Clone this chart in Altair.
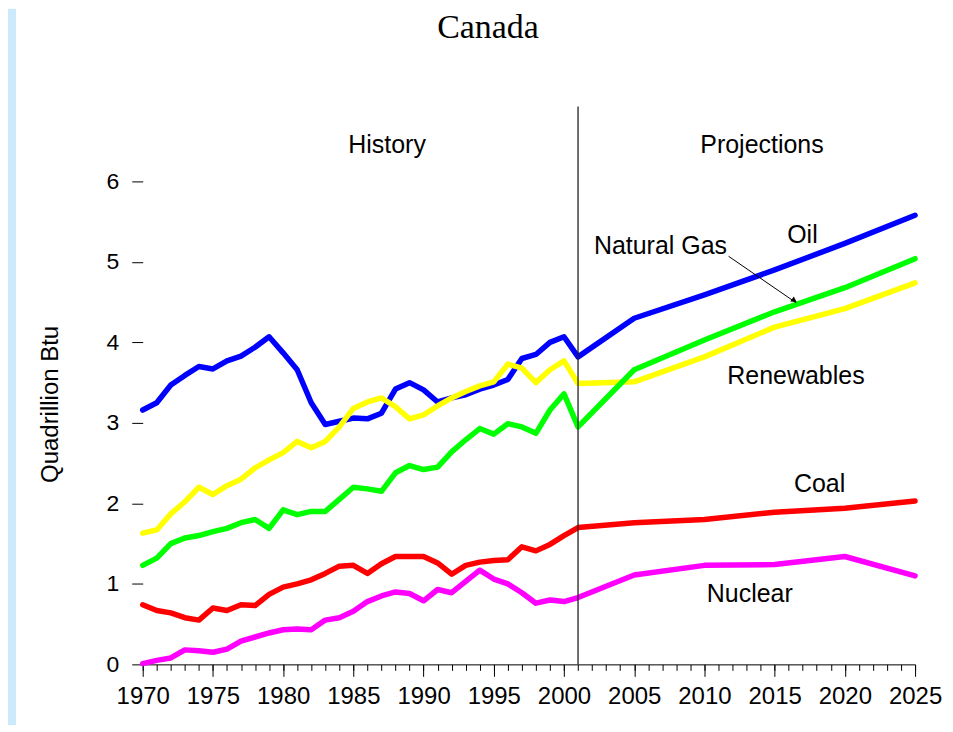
import altair as alt
import pandas as pd

years = list(range(1970, 2002)) + [2005, 2010, 2015, 2020, 2025]

oil = [3.16, 3.25, 3.47, 3.59, 3.70, 3.67, 3.77, 3.83, 3.94, 4.07, 3.87, 3.66, 3.25, 2.98, 3.02,
       3.06, 3.05, 3.12, 3.42, 3.50, 3.41, 3.26, 3.31, 3.35, 3.42, 3.47, 3.54, 3.80, 3.85, 4.00,
       4.07, 3.82, 4.30, 4.59, 4.90, 5.23, 5.58]
renewables = [1.63, 1.67, 1.87, 2.02, 2.20, 2.11, 2.22, 2.30, 2.44, 2.54, 2.63, 2.77, 2.69, 2.77, 2.95,
              3.18, 3.26, 3.31, 3.20, 3.05, 3.10, 3.21, 3.31, 3.39, 3.46, 3.51, 3.73, 3.68, 3.50, 3.66,
              3.77, 3.49, 3.51, 3.82, 4.19, 4.42, 4.74]
gas = [1.23, 1.32, 1.50, 1.57, 1.60, 1.65, 1.69, 1.76, 1.80, 1.69, 1.92, 1.86, 1.90, 1.90, 2.05,
       2.20, 2.18, 2.15, 2.38, 2.47, 2.42, 2.45, 2.64, 2.79, 2.93, 2.86, 2.99, 2.95, 2.87, 3.16,
       3.36, 2.95, 3.66, 4.03, 4.38, 4.68, 5.04]
coal = [0.74, 0.67, 0.64, 0.58, 0.55, 0.70, 0.67, 0.74, 0.73, 0.87, 0.96, 1.00, 1.05, 1.13, 1.22,
        1.23, 1.13, 1.25, 1.34, 1.34, 1.34, 1.26, 1.12, 1.23, 1.27, 1.29, 1.30, 1.46, 1.41, 1.49,
        1.60, 1.70, 1.76, 1.80, 1.89, 1.94, 2.03]
nuclear = [0.01, 0.05, 0.08, 0.18, 0.17, 0.15, 0.19, 0.29, 0.34, 0.39, 0.43, 0.44, 0.43, 0.55, 0.58,
           0.66, 0.78, 0.85, 0.90, 0.88, 0.79, 0.93, 0.89, 1.03, 1.17, 1.06, 1.00, 0.89, 0.76, 0.80,
           0.78, 0.83, 1.11, 1.23, 1.24, 1.34, 1.10]

series = [("Oil", oil, "#0000FF"), ("Renewables", renewables, "#FFFF00"),
          ("Natural Gas", gas, "#00FF00"), ("Coal", coal, "#FF0000"),
          ("Nuclear", nuclear, "#FF00FF")]

title_text = ["Canada"]
label_text = ["History", "Projections", "Oil", "Natural Gas", "Renewables", "Coal", "Nuclear"]
label_x = [1987.4, 2014.1, 2016.98, 2006.87, 2016.52, 2018.2, 2013.23]
label_y = [6.356, 6.356, 5.24, 5.095, 3.483, 2.136, 0.772]

arrow_x = [2011.72, 2016.55]
arrow_y = [5.07, 4.49]
divider_year = [2001]

FONT = "Liberation Sans"
W, H = 774, 559
xscale = alt.Scale(domain=[1970, 2025], nice=False, zero=False)
yscale = alt.Scale(domain=[0, 6.93], nice=False, zero=True)

y_axis = alt.Axis(values=[0, 1, 2, 3, 4, 5, 6], tickSize=11, domain=False, grid=False,
                  labelPadding=13, labelFont=FONT, labelFontSize=23, labelColor="black",
                  tickColor="black", title="Quadrillion Btu", titleFont=FONT, titleFontSize=24,
                  titleFontWeight="normal", titleColor="black", titleAngle=270,
                  titleX=-85.7, titleY=298, titleAlign="center", titleBaseline="alphabetic")
x_axis = alt.Axis(values=list(range(1970, 2026, 5)), format="d", title=None, tickSize=12,
                  domainColor="black", tickColor="black", labelFont=FONT, labelFontSize=24,
                  labelColor="black", grid=False, labelBaseline="alphabetic", labelPadding=27,
                  orient="bottom", labelFlush=False)
minor_axis = alt.Axis(values=list(range(1970, 2026)), labels=False, tickSize=6, domain=False,
                      tickColor="black", grid=False, title=None, orient="bottom")


def Y(field):
    return alt.Y(field, scale=yscale, axis=y_axis)


strip = alt.Chart(pd.DataFrame({"a": [0]})).mark_rect(color="#CDE9FC").encode(
    x=alt.value(-135), x2=alt.value(-127), y=alt.value(-98), y2=alt.value(H + 70))

title = alt.Chart(pd.DataFrame({"t": title_text})).mark_text(
    font="Liberation Serif", fontSize=34, align="center", baseline="alphabetic",
    color="black").encode(x=alt.value(346), y=alt.value(-69), text="t:N")

layers = [strip, title]
for i, (name, vals, col) in enumerate(series):
    df = pd.DataFrame({"year": years, "value": vals})
    lyr = alt.Chart(df).mark_line(color=col, strokeWidth=5.5, strokeCap="round",
                                  strokeJoin="round").encode(
        x=alt.X("year:Q", scale=xscale, axis=x_axis if i == 0 else None),
        y=Y("value:Q"))
    layers.append(lyr)

divider = alt.Chart(pd.DataFrame({"year": divider_year})).mark_rule(
    color="#222222", strokeWidth=1.3).encode(
    x=alt.X("year:Q", scale=xscale, axis=minor_axis))
layers.append(divider)

labels = alt.Chart(pd.DataFrame({"year": label_x, "value": label_y, "t": label_text})).mark_text(
    font=FONT, fontSize=25, align="center", baseline="alphabetic", color="black").encode(
    x=alt.X("year:Q", scale=xscale, axis=None),
    y=Y("value:Q"),
    text="t:N")
layers.append(labels)

arrow_df = pd.DataFrame({"year": [arrow_x[0]], "value": [arrow_y[0]],
                         "year2": [arrow_x[1]], "value2": [arrow_y[1]]})
arrow = alt.Chart(arrow_df).mark_rule(color="black", strokeWidth=1).encode(
    x=alt.X("year:Q", scale=xscale, axis=None), y=Y("value:Q"),
    x2="year2:Q", y2="value2:Q")
head = alt.Chart(pd.DataFrame({"year": [2016.4], "value": [4.52]})).mark_point(
    shape="triangle-right", filled=True, color="black", size=40, angle=35, opacity=1).encode(
    x=alt.X("year:Q", scale=xscale, axis=None), y=Y("value:Q"))
layers += [arrow, head]

chart = alt.layer(*layers).resolve_axis(x="independent").properties(
    width=W, height=H,
    autosize=alt.AutoSizeParams(type="none"),
    padding={"left": 135, "top": 98, "right": 30, "bottom": 60},
    background="white",
).configure_view(strokeWidth=0, stroke="transparent")

chart.save("out.html", embed_options={"renderer": "svg", "actions": False})
